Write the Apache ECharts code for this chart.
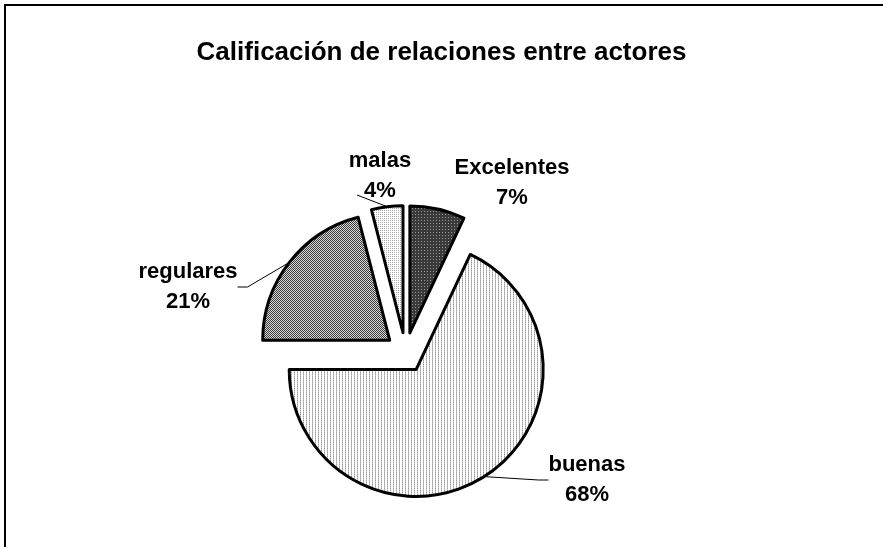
<!DOCTYPE html>
<html>
<head>
<meta charset="utf-8">
<script src="https://cdn.jsdelivr.net/npm/echarts@6/dist/echarts.min.js"></script>
<style>
    html, body { margin: 0; padding: 0; background: #fff; }
    #chart { width: 883px; height: 547px; }
</style>
</head>
<body>
<div id="chart"></div>
<script>
const titleText = 'Calificación de relaciones entre actores'
const categories = ['Excelentes', 'buenas', 'regulares', 'malas']
const percents = [7, 68, 21, 4]

// small canvas tiles used as hatch fills
const makeTile = (w, h, draw) => {
    const c = document.createElement('canvas')
    c.width = w
    c.height = h
    const ctx = c.getContext('2d')
    draw(ctx)
    return c
}
const px = (ctx, color, x, y) => {
    ctx.fillStyle = color
    ctx.fillRect(x, y, 1, 1)
}
const patterns = [
    // Excelentes: dark with light dots
    makeTile(3, 3, ctx => {
        ctx.fillStyle = '#3a3a3a'; ctx.fillRect(0, 0, 3, 3)
        px(ctx, '#9a9a9a', 1, 1)
    }),
    // buenas: thin vertical gray lines
    makeTile(3, 2, ctx => {
        ctx.fillStyle = '#ffffff'; ctx.fillRect(0, 0, 3, 2)
        px(ctx, '#9c9c9c', 0, 0)
        px(ctx, '#c4c4c4', 0, 1)
    }),
    // regulares: checker
    makeTile(2, 2, ctx => {
        ctx.fillStyle = '#d8d8d8'; ctx.fillRect(0, 0, 2, 2)
        px(ctx, '#3c3c3c', 0, 0)
        px(ctx, '#3c3c3c', 1, 1)
    }),
    // malas: light dots
    makeTile(2, 2, ctx => {
        ctx.fillStyle = '#ffffff'; ctx.fillRect(0, 0, 2, 2)
        px(ctx, '#a8a8a8', 0, 0)
    })
]

// where each label block sits
const labelSpots = [[512, 183], [587, 480], [188, 287], [380, 176]]

const pieCenter = [405.5, 352.5]
const explode = 20
const total = percents.reduce((a, b) => a + b, 0)

const placeLabel = p => {
    const [sx, sy] = labelSpots[p.dataIndex]
    const out = { x: sx, y: sy, align: 'center', verticalAlign: 'middle' }
    // malas sits right on top of its slice, so run the leader out to the left of the text
    if (p.dataIndex === 3 && p.labelLinePoints) {
        const from = p.labelLinePoints[0]
        out.labelLinePoints = [from, [sx - 23, sy + 19], [sx - 23, sy + 19]]
    }
    return out
}

// one pie per slice so each can be pulled out along its own mid angle
let cum = 0
const series = categories.map((name, k) => {
    const mid = (cum + percents[k] / 2) / total * Math.PI * 2
    cum += percents[k]
    return {
        type: 'pie',
        center: [pieCenter[0] + explode * Math.sin(mid), pieCenter[1] - explode * Math.cos(mid)],
        radius: 127,
        startAngle: 90,
        clockwise: true,
        silent: true,
        emphasis: { disabled: true },
        avoidLabelOverlap: false,
        data: categories.map((n, i) => {
            const own = i === k
            return {
                name: n,
                value: percents[i],
                itemStyle: own
                    ? { color: { image: patterns[i], repeat: 'repeat' }, borderColor: '#000', borderWidth: 3 }
                    : { color: 'rgba(0,0,0,0)', borderWidth: 0 },
                label: { show: own },
                labelLine: { show: own && i !== 0 }
            }
        }),
        label: {
            formatter: p => p.name + '\n' + p.value + '%',
            fontFamily: 'Liberation Sans',
            fontWeight: 'bold',
            fontSize: 22,
            lineHeight: 30,
            color: '#000'
        },
        labelLine: {
            lineStyle: { color: '#000', width: 1 },
            length: 10,
            length2: 10
        },
        labelLayout: placeLabel
    }
})

const chart = echarts.init(document.getElementById('chart'))
const option = {
    backgroundColor: '#fff',
    animation: false,
    title: {
        text: titleText,
        left: 'center',
        top: 35,
        textStyle: {
            fontFamily: 'Liberation Sans',
            fontWeight: 'bold',
            fontSize: 26,
            color: '#000'
        }
    },
    graphic: [{
        type: 'polyline',
        shape: { points: [[5, 547], [5, 5], [883, 5]] },
        style: { stroke: '#000', lineWidth: 2, fill: null }
    }],
    series
}
chart.setOption(option)
</script>
</body>
</html>
